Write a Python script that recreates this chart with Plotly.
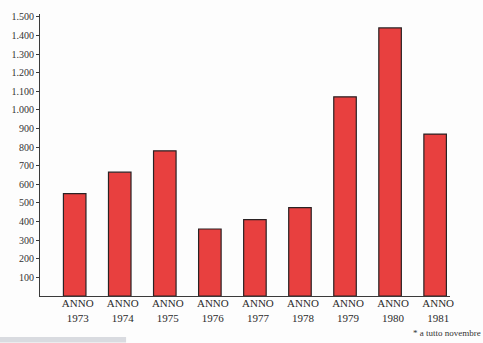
import plotly.graph_objects as go

# Valori annuali (1981 a tutto novembre)
anni = ["1973", "1974", "1975", "1976", "1977", "1978", "1979", "1980", "1981"]
valori = [550, 665, 780, 360, 410, 475, 1070, 1440, 870]
etichette_x = ["ANNO<br>" + a for a in anni]
tick_y = [100, 200, 300, 400, 500, 600, 700, 800, 900, 1000, 1100, 1200, 1300, 1400, 1500]
etichette_y = [f"{v:,}".replace(",", ".") for v in tick_y]

pos = list(range(len(anni)))

fig = go.Figure(
    go.Bar(
        x=pos,
        y=valori,
        width=0.5,
        marker=dict(color="#e8403f", line=dict(color="#2a2224", width=1.2)),
        hoverinfo="skip",
    )
)

serif = "Liberation Serif, Times New Roman, serif"

fig.update_layout(
    width=483,
    height=343,
    margin=dict(l=40, r=33, t=11, b=47),
    paper_bgcolor="#fdfdfd",
    plot_bgcolor="#fdfdfd",
    showlegend=False,
    font=dict(family=serif, color="#2b2b2b"),
    xaxis=dict(
        range=[-0.77, 8.33],
        tickmode="array",
        tickvals=pos,
        ticktext=etichette_x,
        showline=True,
        linecolor="#3a3a3a",
        linewidth=1,
        ticks="",
        showgrid=False,
        zeroline=False,
        tickfont=dict(family=serif, size=11, color="#2b2b2b"),
        ticklabelshift=3,
        ticklabelstandoff=-3,
        fixedrange=True,
    ),
    yaxis=dict(
        range=[0, 1515],
        tickmode="array",
        tickvals=tick_y,
        ticktext=etichette_y,
        showline=True,
        linecolor="#3a3a3a",
        linewidth=1,
        ticks="outside",
        ticklen=3,
        tickcolor="#3a3a3a",
        showgrid=False,
        zeroline=False,
        tickfont=dict(family=serif, size=10, color="#333333"),
        fixedrange=True,
    ),
    annotations=[
        dict(
            text="* a tutto novembre",
            xref="paper", yref="paper",
            x=0.905, y=-0.108,
            xanchor="left", yanchor="top",
            showarrow=False,
            font=dict(family=serif, size=9, color="#333333"),
        )
    ],
    shapes=[
        dict(
            type="rect", xref="paper", yref="paper",
            x0=-0.1, x1=0.21, y0=-0.165, y1=-0.145,
            fillcolor="#d9dbe0", line=dict(width=0), layer="below",
        )
    ],
)

fig.write_html("out.html")
